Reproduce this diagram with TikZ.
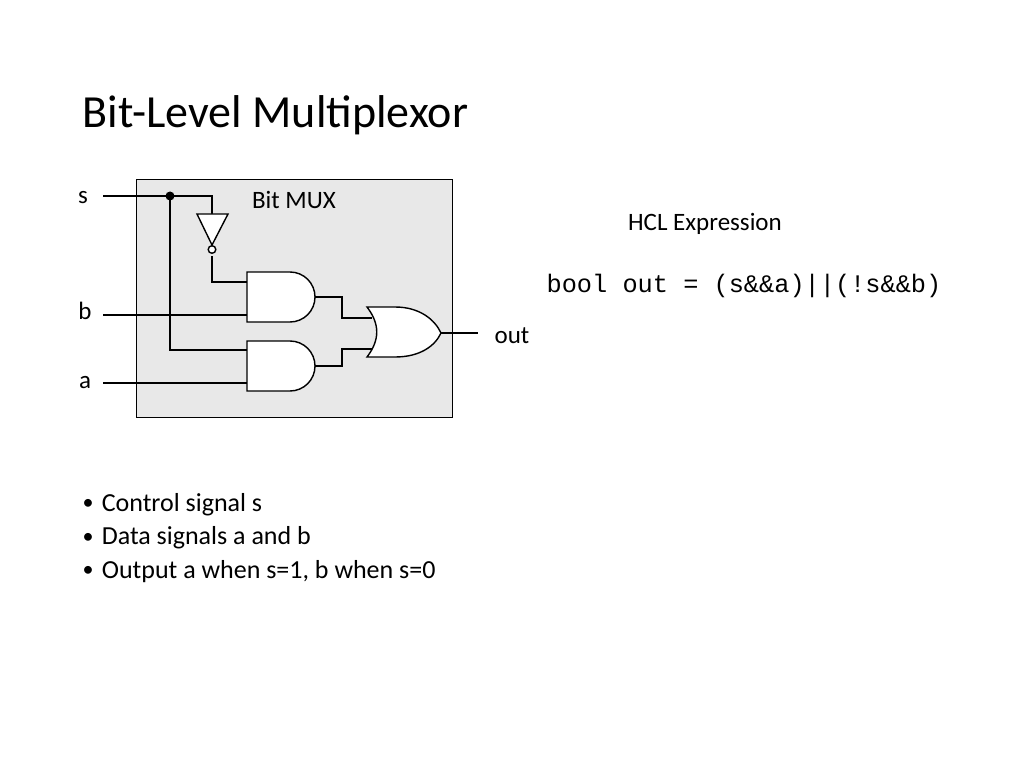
\documentclass[tikz,border=0pt]{standalone}
\usepackage{fontspec}
\setmainfont{Carlito}
\newfontfamily\codefont{Liberation Mono}
\begin{document}
\begin{tikzpicture}
  [x=1pt, y=-1pt, line width=1.6pt]
  \tikzstyle{wire} = [draw=black, line width=1.6pt];
  \tikzstyle{gate} = [draw=black, fill=white, line width=1.4pt];
  \tikzstyle{lbl}  = [font=\fontsize{25}{25}\selectfont];

  \useasboundingbox (0, 0) rectangle (1024, 767);

  \node[anchor=west, inner sep=0pt, font=\fontsize{46}{46}\selectfont] (title) at (82, 115) {Bit-Level Multiplexor};

  % mux box
  \draw[fill=black!9, line width=0.8pt] (136, 179) rectangle (452, 417);
  \node[lbl] (mux) at (294, 200) {Bit MUX};

  % inputs
  \node[lbl] (s) at (83, 198) {s};
  \node[lbl] (b) at (85, 311) {b};
  \node[lbl] (a) at (85, 383) {a};
  \node[lbl] (out) at (512, 336) {out};

  \coordinate (sin) at (103, 196);
  \coordinate (bin) at (103, 315);
  \coordinate (ain) at (103, 383);
  \coordinate (sdot) at (170, 196);

  % wires
  \draw[wire] (sin) -- (212, 196) -- (212, 214);
  \draw[wire] (sdot) -- (170, 350) -- (248, 350);
  \draw[wire] (212, 256) -- (212, 282) -- (248, 282);
  \draw[wire] (bin) -- (248, 315);
  \draw[wire] (ain) -- (248, 383);
  \draw[wire] (315, 297) -- (342, 297) -- (342, 318) -- (372, 318);
  \draw[wire] (315, 366) -- (342, 366) -- (342, 349) -- (372, 349);
  \draw[wire] (441, 333) -- (478, 333);
  \fill (sdot) circle (4.5);

  % inverter
  \draw[gate] (197, 214) -- (228, 214) -- (212, 245) -- cycle;
  \draw[gate] (212, 249.5) circle (3.8);

  % and gates
  \foreach \y in {272, 341}
    \draw[gate] (247, \y) -- (290, \y) arc (-90:90:25) -- (247, \y+50) -- cycle;

  % or gate
  \draw[gate] (367, 307) -- (395, 307) .. controls (420, 307) and (435, 320) .. (441, 333)
    .. controls (435, 346) and (420, 357) .. (395, 357) -- (367, 357)
    .. controls (380, 340) and (380, 324) .. (367, 307) -- cycle;

  % right side
  \node[lbl] (hcl) at (705, 224) {HCL Expression};
  \node[font=\codefont\fontsize{25.3}{25}\selectfont] (expr) at (744, 286) {bool out = (s\&\&a)||(!s\&\&b)};

  % bullets
  \foreach \t [count=\i] in {Control signal s, Data signals a and b, {Output a when s=1, b when s=0}}
  {
    \node[font=\fontsize{22}{22}\selectfont] (dot\i) at (88, 471 + 33.5*\i) {\textbullet};
    \node[anchor=west, inner sep=0pt, font=\fontsize{26}{26}\selectfont] (item\i) at (101, 471 + 33.5*\i) {\t};
  }
\end{tikzpicture}
\end{document}
